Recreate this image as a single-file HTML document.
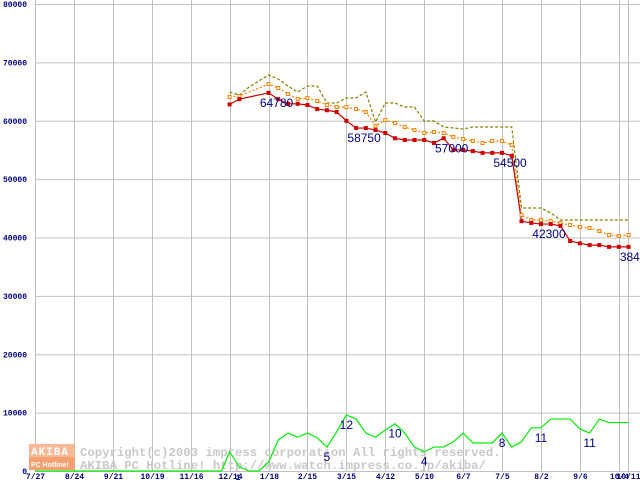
<!DOCTYPE html>
<html><head><meta charset="utf-8">
<style>
html,body{margin:0;padding:0;background:#fff;}
svg{display:block;}
.yt{font:bold 8px "Liberation Mono",monospace;fill:#000080;}
.xt{font:bold 8px "Liberation Mono",monospace;fill:#000080;}
.pl{font:12px "Liberation Sans",sans-serif;fill:#000080;}
.wm{font:bold 12.3px "Liberation Mono",monospace;fill:#c8c8c8;}
</style></head>
<body>
<svg id="chart" width="640" height="480" viewBox="0 0 640 480" xmlns="http://www.w3.org/2000/svg">
<g id="grid"></g>
<g id="wm">
  <rect x="29" y="444" width="46" height="13" fill="#f7b896"/>
  <rect x="29" y="457" width="46" height="13" fill="#f4a070"/>
  <text x="31" y="455" style="font:bold 11px 'Liberation Mono',monospace;fill:#fff;letter-spacing:1px">AKIBA</text>
  <text x="31" y="467" style="font:bold 7px 'Liberation Sans',sans-serif;fill:#fff">PC Hotline!</text>
  <text class="wm" x="80" y="456">Copyright(c)2003 impress corporation All rights reserved.</text>
  <text class="wm" x="80" y="469">AKIBA PC Hotline!  http://www.watch.impress.co.jp/akiba/</text>
</g>
<g id="series"></g>
<g id="labels"></g>
</svg>
<script>
const yTicks=[0,10000,20000,30000,40000,50000,60000,70000,80000];
const xLabels=["7/27","8/24","9/21","10/19","11/16","12/14","1/18","2/15","3/15","4/12","5/10","6/7","7/5","8/2","9/6","10/4","10/11"];
const xLabelWeeks=[0,4,8,12,16,20,24,28,32,36,40,44,48,52,56,60,60.95];
const minPrice=[62800,63700,null,null,64780,63700,62900,62900,62700,62000,61800,61500,60000,58750,58750,58400,57900,57000,56700,56700,56700,56200,57000,55000,55000,54800,54500,54500,54500,54000,42800,42500,42300,42300,42000,39400,39000,38700,38700,38400,38400,38400];
const avgPrice=[64070,64240,null,null,66290,65610,64580,63720,63900,63380,62700,62350,62350,62010,61500,59100,60130,59610,58920,58410,57900,58070,57900,57210,56870,56530,56190,56530,56530,55850,43850,43000,43000,42830,42480,42140,41800,41630,41110,40430,40260,40430];
const maxPrice=[64920,64410,65780,66810,67830,67150,65950,64920,65950,65950,63040,63040,63900,63900,64920,59780,63040,63040,62350,62350,59960,59960,58930,58760,58580,58930,58930,58930,58930,58930,45050,45050,45050,44200,43000,43000,43000,43000,43000,43000,43000,43000];
const shopCount=[3300,700,0,0,1500,5300,6500,5800,6500,5700,4100,6700,9600,8900,6500,5800,7000,8100,6500,4100,3300,4100,4100,5000,6500,4800,4800,4800,6500,4100,5000,7400,7400,8900,8900,8900,7200,6500,8900,8300,8300,8300];
const priceLabelIdx=[4,13,22,28,32,41];
const countLabelIdx=[10,12,17,20,28,32,37];
const countLabelText=["5","12","10","4","8","11","11"];
const startWeek=20;

const NS="http://www.w3.org/2000/svg";
const X0=35, WK=9.73;
const xOfWeek=w=>X0+w*WK;
const xOf=i=>xOfWeek(startWeek+i);
const yOf=v=>471-v*467/80000;
function mk(tag,attrs,parent){const e=document.createElementNS(NS,tag);for(const k in attrs)e.setAttribute(k,attrs[k]);parent.appendChild(e);return e;}
const grid=document.getElementById('grid'),ser=document.getElementById('series'),lab=document.getElementById('labels');

yTicks.forEach(v=>{
  const l=mk('line',{x1:X0,x2:640,y1:yOf(v)+0.5,y2:yOf(v)+0.5,stroke:'#c0c0c0'},grid);
  
  
  const t=mk('text',{x:27,y:yOf(v)+3,'text-anchor':'end',class:'yt'},grid);
  
  
  t.textContent=v;
});
xLabels.forEach((s,k)=>{
  const x=Math.round(xOfWeek(xLabelWeeks[k]))+0.5;
  const l=mk('line',{x1:x,x2:x,y1:0,y2:471,stroke:'#c0c0c0'},grid);
  
  
  const t=mk('text',{x:x,y:479,'text-anchor':'middle',class:'xt'},grid);
  
  
  t.textContent=s;
});
const extra=mk('text',{x:238,y:480,'text-anchor':'middle',class:'xt'},grid);


extra.textContent="1";

let gp=`M${X0},${yOf(0)} L${xOf(0)-8},${yOf(0)}`;
shopCount.forEach((v,i)=>{gp+=` L${xOf(i)},${yOf(v)}`;});
const g=mk('path',{d:gp,fill:'none',stroke:'#00ee00','stroke-width':1.2},ser);



function line(arr,color,dash,name){
  let pts=[];arr.forEach((v,i)=>{if(v!=null)pts.push([xOf(i),yOf(v)]);});
  const d='M'+pts.map(p=>p.join(',')).join(' L');
  const attrs={d:d,fill:'none',stroke:color,'stroke-width':1.2};
  if(dash)attrs['stroke-dasharray']=dash;
  const p=mk('path',attrs,ser);
  
  
}
line(maxPrice,'#808000','3,2','max-price-line');
line(avgPrice,'#ff8000','2,2','avg-price-line');
line(minPrice,'#cc0000',null,'min-price-line');
avgPrice.forEach((v,i)=>{if(v==null)return;
  const r=mk('rect',{x:xOf(i)-1.5,y:yOf(v)-1.5,width:3,height:3,fill:'#fff',stroke:'#ff8000','stroke-width':1},ser);
  
  
});
minPrice.forEach((v,i)=>{if(v==null)return;
  const r=mk('rect',{x:xOf(i)-2,y:yOf(v)-2,width:4,height:4,fill:'#cc0000'},ser);
  
  
});
priceLabelIdx.forEach(i=>{
  const t=mk('text',{x:xOf(i)+8,y:yOf(minPrice[i])+14,'text-anchor':'middle',class:'pl'},lab);
  
  
  t.textContent=minPrice[i];
});
countLabelIdx.forEach((i,k)=>{
  const t=mk('text',{x:xOf(i),y:yOf(shopCount[i])+14,'text-anchor':'middle',class:'pl'},lab);
  
  
  t.textContent=countLabelText[k];
});
</script>
</body></html>
